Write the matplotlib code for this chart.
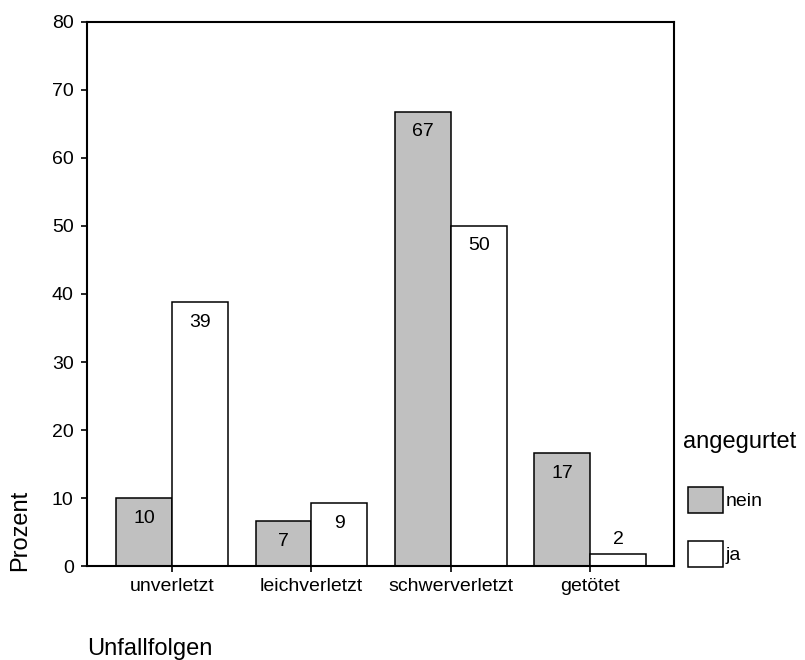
import matplotlib.pyplot as plt
import numpy as np
from matplotlib.patches import Rectangle

plt.rcParams['font.family'] = ['Liberation Sans', 'DejaVu Sans']

# Data
categories = ["unverletzt", "leichverletzt", "schwerverletzt", "getötet"]
nein = [10.0, 6.6, 66.8, 16.6]
ja = [38.8, 9.2, 50.0, 1.8]
nein_labels = ["10", "7", "67", "17"]
ja_labels = ["39", "9", "50", "2"]
groups = ["nein", "ja"]

grey = "#c0c0c0"

fig = plt.figure(figsize=(8.05, 6.60), dpi=100)
ax = fig.add_axes([0.108, 0.1424, 0.729, 0.8243])

x = np.arange(len(categories))
w = 0.4
bars_nein = ax.bar(x - w / 2, nein, w, color=grey, edgecolor="black", linewidth=1.1)
bars_ja = ax.bar(x + w / 2, ja, w, color="white", edgecolor="black", linewidth=1.1)


def label_bars(bars, labels):
    for b, lab in zip(bars, labels):
        h = b.get_height()
        # small bars get the label above, otherwise inside near the top
        off = 14 if h < 5 else -20
        ax.annotate(lab, (b.get_x() + b.get_width() / 2, h),
                    xytext=(0, off), textcoords="offset pixels",
                    ha="center", va="center", fontsize=14)


label_bars(bars_nein, nein_labels)
label_bars(bars_ja, ja_labels)

ax.set_xlim(-0.61, 3.6)
ax.set_ylim(0, 80)
ax.set_yticks(range(0, 81, 10))
ax.set_xticks(x)
ax.set_xticklabels(categories)
ax.tick_params(axis="both", direction="out", length=4.5, width=1.2, labelsize=14)
ax.tick_params(axis="y", pad=5)
ax.tick_params(axis="x", pad=4)
for s in ax.spines.values():
    s.set_linewidth(1.5)

fig.text(20 / 805, 1 - 530 / 660, "Prozent", rotation=90, fontsize=17,
         ha="center", va="center")
fig.text(87 / 805, 1 - 655 / 660, "Unfallfolgen", fontsize=17,
         ha="left", va="baseline")

# legend, drawn by hand like the SPSS one
fig.text(683 / 805, 1 - 448 / 660, "angegurtet", fontsize=17,
         ha="left", va="baseline")
leg_colors = [grey, "white"]
for i, (name, c) in enumerate(zip(groups, leg_colors)):
    top = 487 + i * 54
    fig.patches.append(Rectangle((688 / 805, 1 - (top + 26) / 660), 35 / 805, 26 / 660,
                                 transform=fig.transFigure, facecolor=c,
                                 edgecolor="black", linewidth=1.1))
    fig.text(726 / 805, 1 - (top + 14) / 660, name, fontsize=14,
             ha="left", va="center")

fig.savefig("out.png", dpi=100)
